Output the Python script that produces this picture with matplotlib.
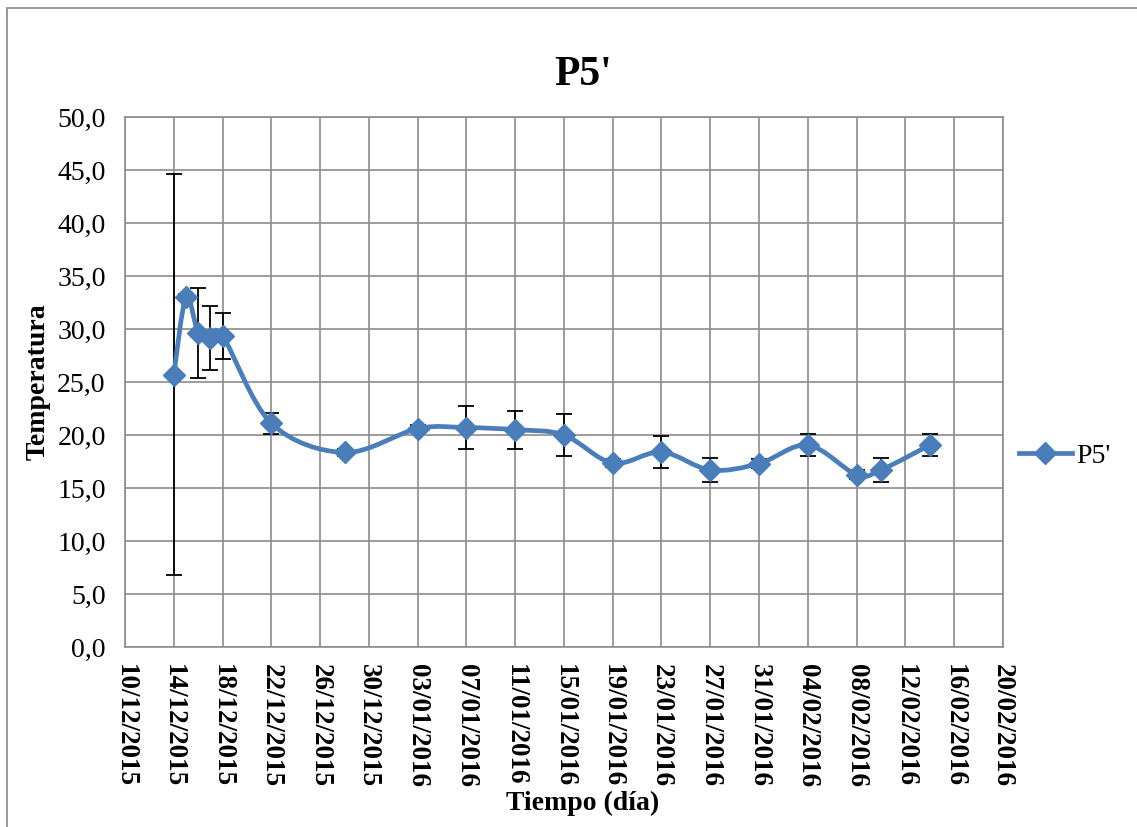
import matplotlib
matplotlib.use("Agg")
import matplotlib.pyplot as plt
import matplotlib.dates as mdates
from matplotlib.path import Path
from matplotlib.patches import PathPatch, Rectangle
from matplotlib.lines import Line2D
import numpy as np
from datetime import datetime

# sampling dates and mean temperature with its spread
fechas = ["14/12/2015", "15/12/2015", "16/12/2015", "17/12/2015", "18/12/2015",
          "22/12/2015", "28/12/2015", "03/01/2016", "07/01/2016", "11/01/2016",
          "15/01/2016", "19/01/2016", "23/01/2016", "27/01/2016", "31/01/2016",
          "04/02/2016", "08/02/2016", "10/02/2016", "14/02/2016"]
temp = [25.7, 33.0, 29.65, 29.15, 29.35, 21.1, 18.35, 20.6, 20.7, 20.5,
        20.0, 17.35, 18.4, 16.7, 17.3, 19.05, 16.25, 16.7, 19.05]
err = [18.9, 0.3, 4.25, 3.05, 2.15, 1.0, 0.3, 0.3, 2.0, 1.8,
       2.0, 0.4, 1.5, 1.15, 0.4, 1.0, 0.4, 1.1, 1.0]

x_ini, x_fin = "10/12/2015", "20/02/2016"
y_ticks = [0, 5, 10, 15, 20, 25, 30, 35, 40, 45, 50]

BLUE = "#4A7EBB"
GRID = "#8C8C8C"
SERIF = ["Liberation Serif", "DejaVu Serif"]

plt.rcParams["font.family"] = SERIF

to_dt = lambda s: datetime.strptime(s, "%d/%m/%Y")
xd = mdates.date2num([to_dt(f) for f in fechas])
yv = np.array(temp)

fig = plt.figure(figsize=(11.37, 8.27), dpi=100)
ax = fig.add_axes([0.110, 0.2177, 0.772, 0.6408])

# outer chart frame
fig.patches.append(Rectangle((0.006, -0.01), 1.02, 1.0, transform=fig.transFigure,
                             fill=False, edgecolor="#888888", lw=1.2))

ax.errorbar(xd, yv, yerr=err, fmt="none", ecolor="black", elinewidth=1.3,
            capsize=6, capthick=1.3, zorder=2)

# smoothed line: cubic Bezier segments through the data points
pts = np.column_stack([xd, yv])
verts = [pts[0]]
codes = [Path.MOVETO]
n = len(pts)
for i in range(n - 1):
    p0 = pts[i - 1] if i > 0 else pts[i]
    p1, p2 = pts[i], pts[i + 1]
    p3 = pts[i + 2] if i + 2 < n else pts[i + 1]
    c1 = p1 + (p2 - p0) / 6.0
    c2 = p2 - (p3 - p1) / 6.0
    verts += [c1, c2, p2]
    codes += [Path.CURVE4] * 3
ax.add_patch(PathPatch(Path(verts, codes), fill=False, edgecolor=BLUE, lw=3.4,
                       capstyle="round", joinstyle="round", zorder=3))
ax.plot(xd, yv, linestyle="none", marker="D", markersize=11, color=BLUE, zorder=4)

x0, x1 = mdates.date2num(to_dt(x_ini)), mdates.date2num(to_dt(x_fin))
ax.set_xlim(x0, x1)
ax.set_ylim(0, 50)
ax.set_xticks(np.arange(x0, x1 + 0.5, 4))
ax.xaxis.set_major_formatter(mdates.DateFormatter("%d/%m/%Y"))
ax.set_yticks(y_ticks)
ax.set_yticklabels([f"{v:.1f}".replace(".", ",") for v in y_ticks], fontsize=20)
for lbl in ax.get_xticklabels():
    lbl.set_rotation(-90)
    lbl.set_fontweight("bold")
    lbl.set_fontsize(19.5)
ax.tick_params(axis="x", pad=12, length=0)
ax.tick_params(axis="y", pad=14, length=0)

ax.grid(True, color=GRID, lw=1.2)
ax.set_axisbelow(True)
for s in ax.spines.values():
    s.set_color(GRID)
    s.set_linewidth(1.2)

fig.text(0.513, 0.909, "P5'", fontsize=30, fontweight="bold", ha="center", va="center")
fig.text(0.512, 0.029, "Tiempo (día)", fontsize=20, fontweight="bold",
         ha="center", va="center")
ax.set_ylabel("Temperatura", fontsize=20, fontweight="bold")
ax.yaxis.set_label_coords(-0.085, 0.5)

handle = Line2D([], [], color=BLUE, lw=3.4, marker="D", markersize=11)
ax.legend([handle], ["P5'"], loc="center left", bbox_to_anchor=(0.99, 0.36),
          frameon=False, fontsize=20, handlelength=1.9, handletextpad=0.15)

fig.savefig("out.png", dpi=100)
